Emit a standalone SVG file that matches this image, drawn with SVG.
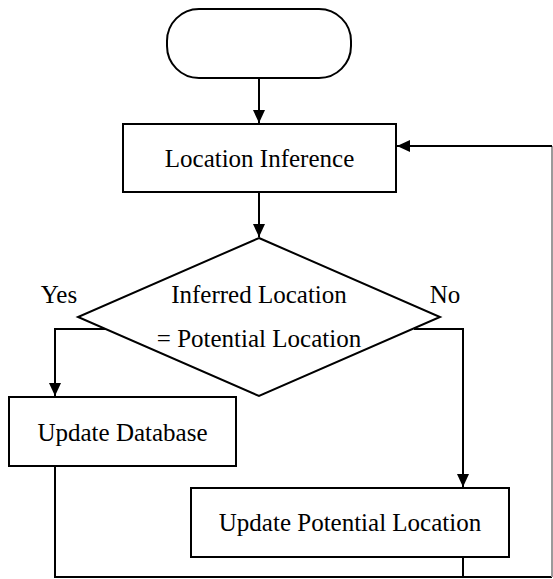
<svg xmlns="http://www.w3.org/2000/svg" width="553" height="579" viewBox="0 0 553 579">
<style>
.s{fill:#fff;stroke:#000;stroke-width:2}
.t{font-family:"Liberation Serif","Times New Roman",serif;font-size:25px;fill:#000;text-anchor:middle}
.c{fill:none;stroke:#000;stroke-width:2}
</style>
<defs>
<marker id="ah" markerWidth="13" markerHeight="12" refX="13" refY="6" orient="auto" markerUnits="userSpaceOnUse">
<path d="M0,0 L13,6 L0,12 z" fill="#000"/>
</marker>
</defs>
<rect width="553" height="579" fill="#fff"/>
<g id="start"><rect class="s" x="167" y="9" width="184" height="69" rx="32" ry="32"/></g>
<g id="inference"><rect class="s" x="123" y="124" width="273" height="68"/><text class="t" x="259.5" y="167">Location Inference</text></g>
<g id="decision"><polygon class="s" points="259,238 440,317 259,396 78,317"/><text class="t" x="259" y="303">Inferred Location</text><text class="t" x="259" y="347">= Potential Location</text></g>
<g id="updatedb"><rect class="s" x="9" y="397" width="227" height="69"/><text class="t" x="122.5" y="441">Update Database</text></g>
<g id="updatepl"><rect class="s" x="191" y="488" width="318" height="69"/><text class="t" x="350" y="531">Update Potential Location</text></g>
<g id="labels"><text class="t" x="59" y="303">Yes</text><text class="t" x="445" y="303">No</text></g>
<g id="connectors">
<path class="c" d="M259,78 V123" marker-end="url(#ah)"/>
<path class="c" d="M259,192 V237" marker-end="url(#ah)"/>
<path class="c" d="M106,329 H55 V396" marker-end="url(#ah)"/>
<path class="c" d="M414,329 H463 V487" marker-end="url(#ah)"/>
<path class="c" d="M55,466 V577 H552"/>
<path class="c" d="M463,557 V577"/>
<path fill="none" stroke="#9a9a9a" stroke-width="2" d="M552,577 V146"/>
<path class="c" d="M552,146 H397" marker-end="url(#ah)"/>
</g>
</svg>
